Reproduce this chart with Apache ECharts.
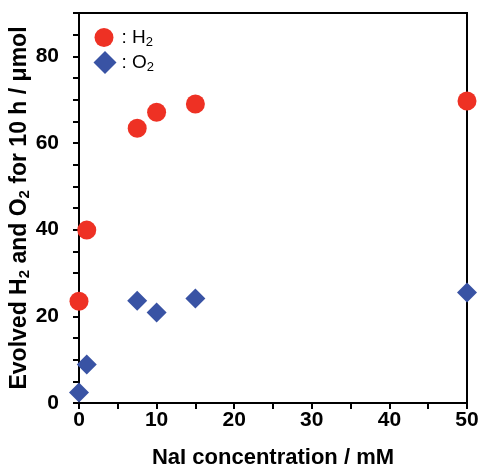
<!DOCTYPE html>
<html>
<head>
<meta charset="utf-8">
<script src="https://cdn.jsdelivr.net/npm/echarts@6/dist/echarts.min.js"></script>
<style>html,body{margin:0;padding:0;background:#fff}#c{width:481px;height:467px}</style>
</head>
<body>
<div id="c"></div>
<script>
const naiConc = [0, 1, 7.5, 10, 15, 50];
const h2Values = [23.5, 39.9, 63.4, 67.1, 69.0, 69.7];
const o2Values = [2.4, 8.9, 23.6, 20.9, 24.1, 25.5];
const xTickLabels = [0, 10, 20, 30, 40, 50];
const yTickLabels = [0, 20, 40, 60, 80];

const chart = echarts.init(document.getElementById('c'));
const FONT = 'Liberation Sans, Arial, sans-serif';
const toPairs = (xs, ys) => xs.map((x, i) => [x, ys[i]]);
const legendRich = {
  t: { fontFamily: FONT, fontSize: 19, color: '#000' },
  s: { fontFamily: FONT, fontSize: 13, color: '#000', verticalAlign: 'bottom', padding: [9, 0, 0, 0] }
};

chart.setOption({
  animation: false,
  backgroundColor: '#fff',
  grid: { left: 79, right: 14, top: 13, bottom: 64, show: true, borderColor: '#000', borderWidth: 2,
    backgroundColor: 'transparent', containLabel: false, outerBoundsMode: 'none' },
  legend: [
    {
      orient: 'vertical', left: 94.5, top: 28, padding: 0,
      itemWidth: 19, itemHeight: 19,
      data: [{ name: 'H2', icon: 'circle' }],
      formatter: () => '{t|: H}{s|2}',
      textStyle: { padding: [0, 0, 0, 3], rich: legendRich }
    },
    {
      orient: 'vertical', left: 93.5, top: 51, padding: 0,
      itemWidth: 23, itemHeight: 23,
      data: [{ name: 'O2', icon: 'diamond' }],
      formatter: () => '{t|: O}{s|2}',
      textStyle: { rich: legendRich }
    }
  ],
  xAxis: {
    type: 'value', min: 0, max: 50, interval: 5,
    name: 'NaI concentration / mM', nameLocation: 'middle', nameGap: 44, nameMoveOverlap: false,
    nameTextStyle: { fontFamily: FONT, fontSize: 22, fontWeight: 'bold', color: '#000' },
    axisLine: { lineStyle: { color: '#000', width: 2 } },
    axisTick: { length: 6, lineStyle: { color: '#000', width: 2 } },
    axisLabel: { fontFamily: FONT, fontSize: 21, fontWeight: 'bold', color: '#000', margin: 7,
      formatter: v => xTickLabels.includes(v) ? String(v) : '' },
    splitLine: { show: false }
  },
  yAxis: {
    type: 'value', min: 0, max: 90, interval: 5,
    name: '{b|Evolved H}{s|2}{b| and O}{s|2}{b| for 10 h / μmol}',
    nameLocation: 'middle', nameRotate: 90, nameGap: 47, nameMoveOverlap: false,
    nameTextStyle: {
      rich: {
        b: { fontFamily: FONT, fontSize: 23, fontWeight: 'bold', color: '#000' },
        s: { fontFamily: FONT, fontSize: 15, fontWeight: 'bold', color: '#000', verticalAlign: 'bottom', padding: [9, 0, 0, 0] }
      }
    },
    axisLine: { lineStyle: { color: '#000', width: 2 } },
    axisTick: { length: 6, lineStyle: { color: '#000', width: 2 } },
    axisLabel: { fontFamily: FONT, fontSize: 21, fontWeight: 'bold', color: '#000', margin: 20,
      formatter: v => yTickLabels.includes(v) ? String(v) : '' },
    splitLine: { show: false }
  },
  series: [
    { name: 'H2', type: 'scatter', symbol: 'circle', symbolSize: 19, itemStyle: { color: '#EE3124', opacity: 1 }, data: toPairs(naiConc, h2Values), z: 3 },
    { name: 'O2', type: 'scatter', symbol: 'diamond', symbolSize: 20, itemStyle: { color: '#3953A4', opacity: 1 }, data: toPairs(naiConc, o2Values), z: 4 }
  ]
});
</script>
</body>
</html>
